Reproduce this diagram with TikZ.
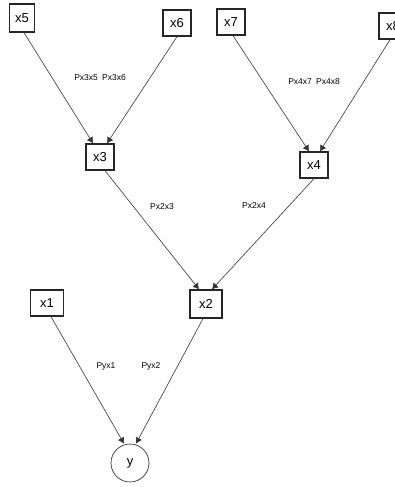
\documentclass[tikz,border=0pt]{standalone}
\usepackage{fontspec}
\setmainfont{Liberation Sans}
\usetikzlibrary{arrows.meta}
\begin{document}
\begin{tikzpicture}[x=1pt,y=-1pt,
  var/.style={draw=black!85,line width=1.3pt,inner sep=0pt,minimum width=28pt,minimum height=26pt,font=\fontsize{13}{13}\selectfont},
  lat/.style={draw=black!80,line width=0.7pt,circle,inner sep=0pt,minimum size=38pt,font=\fontsize{13}{13}\selectfont},
  lbl/.style={font=\fontsize{8.5}{9}\selectfont,inner sep=1pt},
  path/.style={draw=black!80,line width=0.6pt,-{Latex[length=6pt,width=7pt]}}]
\useasboundingbox (0,0) rectangle (395,487);
\node[var,minimum width=25pt,minimum height=28pt] (x5) at (22,18) {x5};
\node[var] (x6) at (177,23) {x6};
\node[var] (x7) at (231,22) {x7};
\node[var] (x8) at (393,26) {x8};
\node[var] (x3) at (100,157) {x3};
\node[var] (x4) at (314,165) {x4};
\node[var,minimum width=32pt,minimum height=28pt] (x2) at (206,304) {x2};
\node[var,minimum width=33pt] (x1) at (47,303) {x1};
\node[lat] (y) at (130,463) {y};
\draw[path] ([xshift=2pt]x5.south) -- ([xshift=-7pt]x3.north);
\draw[path] (x6.south) -- ([xshift=7pt]x3.north);
\draw[path] ([xshift=2pt]x7.south) -- ([xshift=-5pt]x4.north);
\draw[path] ([xshift=-3pt]x8.south) -- ([xshift=6pt]x4.north);
\draw[path] ([xshift=5pt]x3.south) -- ([xshift=-7pt]x2.north);
\draw[path] (x4.south) -- ([xshift=6pt]x2.north);
\draw[path] ([xshift=4pt]x1.south) -- ([xshift=-6pt]y.north);
\draw[path] ([xshift=-3pt]x2.south) -- ([xshift=6pt]y.north);
\node[lbl] (l1) at (100,78) {Px3x5\enspace Px3x6};
\node[lbl] (l2) at (314,82) {Px4x7\enspace Px4x8};
\node[lbl] (l3) at (162,207) {Px2x3};
\node[lbl] (l4) at (254,206) {Px2x4};
\node[lbl] (l5) at (106,366) {Pyx1};
\node[lbl] (l6) at (151,366) {Pyx2};
\end{tikzpicture}
\end{document}
